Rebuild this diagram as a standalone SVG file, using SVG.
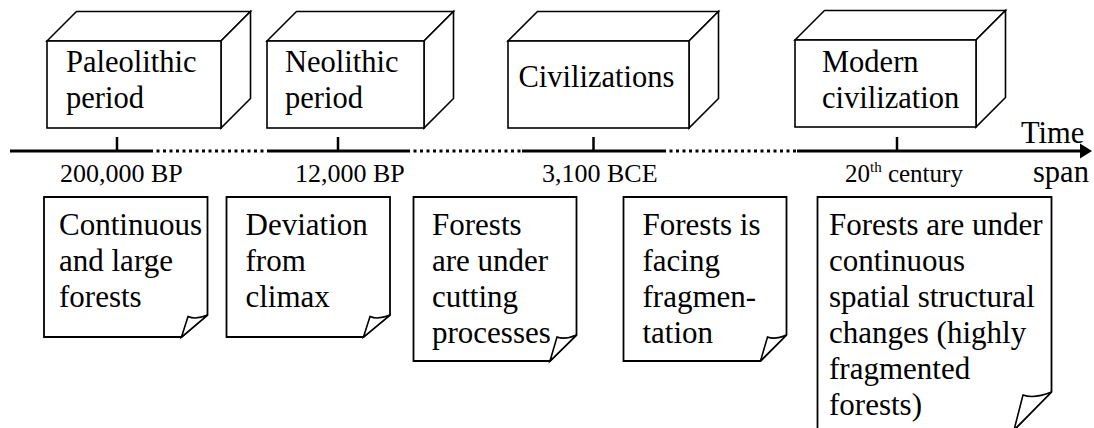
<svg xmlns="http://www.w3.org/2000/svg" width="1094" height="428" viewBox="0 0 1094 428">
<style>
.bx{fill:#fff;stroke:#000;stroke-width:1.6;stroke-linejoin:miter}
.nt{fill:#fff;stroke:#000;stroke-width:1.8;stroke-linejoin:miter}
.curl{fill:#fff;stroke:#000;stroke-width:1.6;stroke-linejoin:miter}
.t{font-family:'Liberation Serif',serif;font-size:30.5px;fill:#000}
.n{font-family:'Liberation Serif',serif;font-size:31px;fill:#000}
.lb{font-family:'Liberation Serif',serif;font-size:26px;fill:#000}
.lb2{font-family:'Liberation Serif',serif;font-size:25px;fill:#000}
.sup{font-size:15px}
.solid{stroke:#000;stroke-width:3;fill:none}
.dot{stroke:#000;stroke-width:3;fill:none;stroke-dasharray:3 3.5}
.tick{stroke:#000;stroke-width:2.5}
</style>
<g id="axis">
<path class="solid" d="M10 151H150M267 151H407M522 151H663M797 151H1082"/>
<path class="dot" d="M150 151H267M407 151H522M663 151H797"/>
<polygon points="1080,143.5 1092,151 1080,158.5" fill="#000"/>
<path class="tick" d="M117 137V151M338 137V151M593.5 137V151M897 137V151"/>
<text class="lb" x="60" y="182">200,000 BP</text>
<text class="lb" x="295" y="182">12,000 BP</text>
<text class="lb" x="542" y="182">3,100 BCE</text>
<text class="lb2" x="845" y="182">20<tspan class="sup" dy="-10">th</tspan><tspan dy="10"> century</tspan></text>
<text class="t" x="1021" y="143">Time</text>
<text class="t" x="1033" y="182">span</text>
</g>
<g id="box-paleolithic">
<polygon class="bx" points="47,41 76.5,11.5 250.5,11.5 221,41"/>
<polygon class="bx" points="221,41 250.5,11.5 250.5,98.5 221,128"/>
<rect class="bx" x="47" y="41" width="174" height="87"/>
<text class="t" x="66" y="72">Paleolithic<tspan x="66" y="108">period</tspan></text>
</g>
<g id="box-neolithic">
<polygon class="bx" points="267,41 296.5,11.5 453.5,11.5 424,41"/>
<polygon class="bx" points="424,41 453.5,11.5 453.5,98.5 424,128"/>
<rect class="bx" x="267" y="41" width="157" height="87"/>
<text class="t" x="285" y="72">Neolithic<tspan x="285" y="108">period</tspan></text>
</g>
<g id="box-civilizations">
<polygon class="bx" points="508,41 537.5,11.5 718.5,11.5 689,41"/>
<polygon class="bx" points="689,41 718.5,11.5 718.5,98.5 689,128"/>
<rect class="bx" x="508" y="41" width="181" height="87"/>
<text class="t" x="518.5" y="87">Civilizations</text>
</g>
<g id="box-modern">
<polygon class="bx" points="795,40 824.5,10.5 1005.5,10.5 976,40"/>
<polygon class="bx" points="976,40 1005.5,10.5 1005.5,97.5 976,127"/>
<rect class="bx" x="795" y="40" width="181" height="87"/>
<text class="t" x="822" y="72">Modern<tspan x="822" y="108">civilization</tspan></text>
</g>
<g id="note-1">
<path class="nt" d="M44 197H207.5V315L181.5 337H44Z"/>
<path class="curl" d="M181.5 337L188 316.5Q196 320 207.5 315Z"/>
<text class="n" x="59" y="235">Continuous<tspan x="59" y="271">and large</tspan><tspan x="59" y="307">forests</tspan></text>
</g>
<g id="note-2">
<path class="nt" d="M226.5 197H390V315L363.5 337H226.5Z"/>
<path class="curl" d="M363.5 337L370 316.5Q378 320 390 315Z"/>
<text class="n" x="245.5" y="235">Deviation<tspan x="245.5" y="271">from</tspan><tspan x="245.5" y="307">climax</tspan></text>
</g>
<g id="note-3">
<path class="nt" d="M413.5 197H576.5V335L550 361H413.5Z"/>
<path class="curl" d="M550 361L557 337Q565 340 576.5 335Z"/>
<text class="n" x="432" y="235">Forests<tspan x="432" y="271">are under</tspan><tspan x="432" y="307">cutting</tspan><tspan x="432" y="343">processes</tspan></text>
</g>
<g id="note-4">
<path class="nt" d="M623.5 197H786.5V335L760.5 361H623.5Z"/>
<path class="curl" d="M760.5 361L767.5 337Q775 340 786.5 335Z"/>
<text class="n" x="642.5" y="235">Forests is<tspan x="642.5" y="271">facing</tspan><tspan x="642.5" y="307">fragmen-</tspan><tspan x="642.5" y="343">tation</tspan></text>
</g>
<g id="note-5">
<path class="nt" d="M817.5 197H1051.5V392L1014 430H817.5Z"/>
<path class="curl" d="M1014 430L1023 395Q1034 399 1051.5 392Z"/>
<text class="n" x="829" y="235">Forests are under<tspan x="829" y="271">continuous</tspan><tspan x="829" y="307">spatial structural</tspan><tspan x="829" y="343">changes (highly</tspan><tspan x="829" y="379">fragmented</tspan><tspan x="829" y="415">forests)</tspan></text>
</g>
</svg>
